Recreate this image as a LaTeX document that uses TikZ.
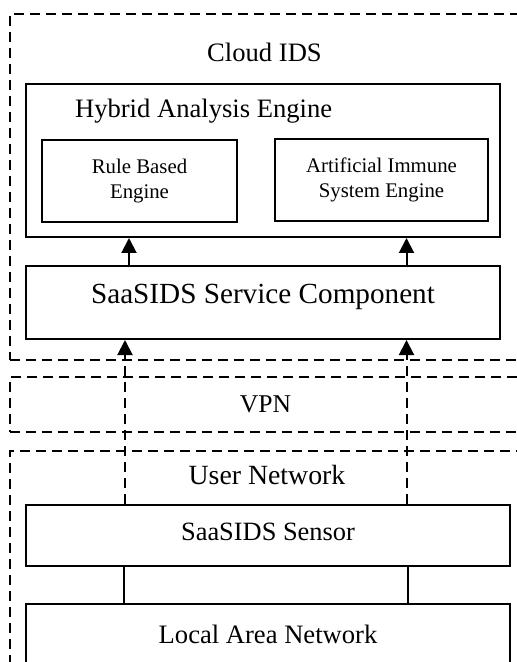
\documentclass[tikz,border=0pt]{standalone}
\usepackage{fontspec}
\setmainfont{Liberation Serif}
\usetikzlibrary{arrows.meta, positioning}

\begin{document}
\begin{tikzpicture}[x=0.5pt, y=-0.5pt,
    block/.style={draw, line width=1pt, align=center, inner sep=0pt},
    zone/.style={draw, line width=0.9pt, dash pattern=on 5pt off 3pt, anchor=north west, inner sep=0pt},
    arrow/.style={line width=1pt, -{Triangle[length=7.5pt, width=7.5pt]}},
    link/.style={line width=1pt}
]
\useasboundingbox (0,0) rectangle (517,662);
\clip (0,0) rectangle (517,662);

% dashed zones
\node[zone, minimum width=261pt, minimum height=173pt] (cloud) at (9,13) {};
\node[zone, minimum width=261pt, minimum height=27.5pt] (vpn) at (9,376) {};
\node[zone, minimum width=261pt, minimum height=120pt] (user) at (9,450) {};

\node[anchor=base, font=\fontsize{13.3}{16}\selectfont] (cloudlbl) at (264.5,62) {Cloud IDS};
\node[anchor=base, font=\fontsize{12.8}{15}\selectfont] (vpnlbl) at (265.5,412) {VPN};
\node[anchor=base, font=\fontsize{13.9}{16}\selectfont] (userlbl) at (267,484) {User Network};

% boxes
\node[block, minimum width=237pt, minimum height=76.5pt] (hybrid) at (263,160.5) {};
\node[anchor=base west, font=\fontsize{13.3}{16}\selectfont] (hybridlbl) at (68,118) {Hybrid Analysis Engine};
\node[block, minimum width=97.5pt, minimum height=41pt, font=\fontsize{10.4}{12.5}\selectfont] (rule) at (139.5,181) {Rule Based\\Engine};
\node[block, minimum width=106.5pt, minimum height=41pt, font=\fontsize{10.4}{12.5}\selectfont] (ais) at (381.5,180) {Artificial Immune\\System Engine};
\node[block, minimum width=237pt, minimum height=36.5pt, text depth=8.5pt, font=\fontsize{14.6}{17}\selectfont] (service) at (263,302.5) {SaaSIDS Service Component};
\node[block, minimum width=242pt, minimum height=30.5pt, text depth=3.7pt, font=\fontsize{13.2}{16}\selectfont] (sensor) at (268,535.5) {SaaSIDS Sensor};
\node[block, minimum width=242pt, minimum height=30pt, font=\fontsize{13.3}{16}\selectfont] (lan) at (268,634) {Local Area Network};

% columns for the connectors
\coordinate (upL) at (129,0);
\coordinate (upR) at (406.5,0);
\coordinate (vpnL) at (125,0);
\coordinate (vpnR) at (406.5,0);
\coordinate (lanL) at (124,0);
\coordinate (lanR) at (408,0);

\draw[arrow] (service.north -| upL) -- (hybrid.south -| upL);
\draw[arrow] (service.north -| upR) -- (hybrid.south -| upR);
\draw[arrow, dash pattern=on 5pt off 3pt] (sensor.north -| vpnL) -- (service.south -| vpnL);
\draw[arrow, dash pattern=on 5pt off 3pt] (sensor.north -| vpnR) -- (service.south -| vpnR);
\draw[link] (sensor.south -| lanL) -- (lan.north -| lanL);
\draw[link] (sensor.south -| lanR) -- (lan.north -| lanR);

\end{tikzpicture}
\end{document}
